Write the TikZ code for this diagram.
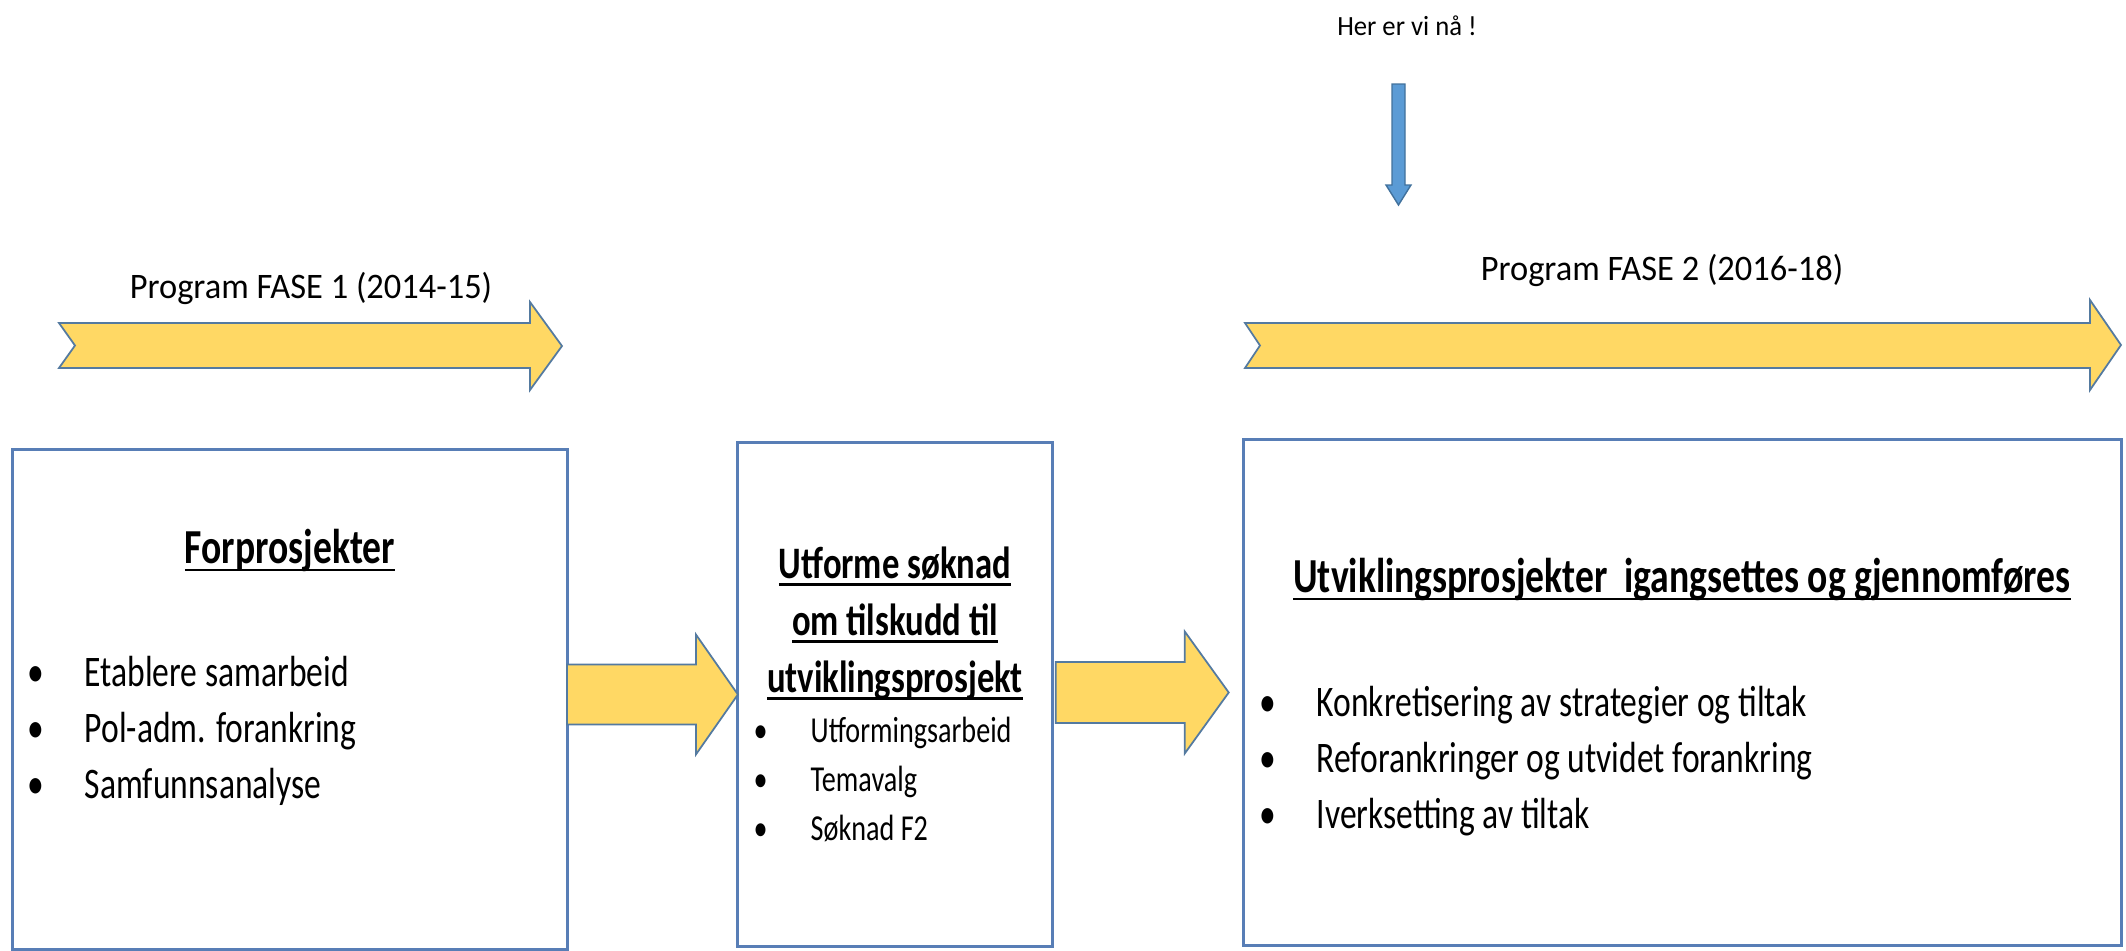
\documentclass[tikz,border=0pt]{standalone}
\usepackage{fontspec}
\setmainfont{Carlito}[FakeStretch=0.77]
\newfontfamily\labelfont{Carlito}[FakeStretch=0.96]
\usepackage{tikz}

\definecolor{gold}{RGB}{255,216,100}
\definecolor{goldline}{RGB}{84,122,160}
\definecolor{boxline}{RGB}{88,126,182}
\definecolor{skyfill}{RGB}{91,155,213}
\definecolor{skyline}{RGB}{65,113,156}

\newcommand\undl[1]{\setbox0=\hbox{#1}\rlap{\rule[-0.17em]{\wd0}{0.055em}}\box0}
\newcommand\bul{\makebox[0.57cm][l]{•}}

\tikzset{
	box/.style={draw=boxline, line width=0.9pt, inner sep=0pt, outer sep=0pt},
	fat/.style={fill=gold, draw=goldline, line width=0.5pt, line join=miter},
	sky/.style={fill=skyfill, draw=skyline, line width=0.4pt},
	lbl/.style={inner sep=0pt, anchor=base, font=\labelfont\fontsize{10.2}{12}\selectfont},
	head/.style={inner sep=0pt, anchor=base, align=center, font=\bfseries\fontsize{13.9}{17}\selectfont},
	body/.style={inner sep=0pt, anchor=base west, align=left, font=\fontsize{12.4}{15.8}\selectfont}
}

\begin{document}
\begin{tikzpicture}[x=0.01cm, y=-0.01cm]
	\useasboundingbox (0,0) rectangle (2126,951);

	\node[lbl, font=\labelfont\fontsize{7.9}{9.5}\selectfont] (h) at (1407,35) {Her er vi nå !};
	\draw[sky] (1392,84) -- (1405,84) -- (1405,185) -- (1411,185) -- (1398.5,205) -- (1386,185) -- (1392,185) -- cycle;

	\node[lbl] (p1) at (311,298) {Program FASE 1 (2014-15)};
	\node[lbl] (p2) at (1662,280) {Program FASE 2 (2016-18)};

	\draw[fat] (59,323) -- (530,323) -- (530,302) -- (562,346) -- (530,390) -- (530,368) -- (59,368) -- (75,345.5) -- cycle;
	\draw[fat] (1245,323) -- (2090,323) -- (2090,300) -- (2121,345) -- (2090,390) -- (2090,368) -- (1245,368) -- (1260,345.5) -- cycle;

	\node[box, minimum width=5.54cm, minimum height=4.99cm] (a) at (290,699.5) {};
	\node[box, minimum width=3.14cm, minimum height=5.03cm] (b) at (895,694.5) {};
	\node[box, minimum width=8.77cm, minimum height=5.05cm] (c) at (1682.5,692.5) {};

	\node[head] (a1) at (290,563) {\undl{Forprosjekter}};
	\node[body] (a2) at (27,798) {\bul Etablere samarbeid\\ \bul Pol-adm. forankring\\ \bul Samfunnsanalyse};

	\node[head, font=\bfseries\fontsize{12.8}{16.2}\selectfont] (b1) at (895,692) {\undl{Utforme søknad}\\ \undl{om tilskudd til}\\ \undl{utviklingsprosjekt}};
	\node[body, font=\fontsize{10.4}{13.9}\selectfont] (b2) at (753,840) {\bul Utformingsarbeid\\ \bul Temavalg\\ \bul Søknad F2};

	\node[head] (c1) at (1682,592) {\undl{Utviklingsprosjekter\ \ igangsettes og gjennomføres}};
	\node[body] (c2) at (1259,828) {\bul Konkretisering av strategier og tiltak\\ \bul Reforankringer og utvidet forankring\\ \bul Iverksetting av tiltak};

	\draw[fat] (b.west) -- ++(-42,-60) -- ++(0,30) -- ++(-129,0) -- ++(0,60) -- ++(129,0) -- ++(0,30) -- cycle;
	\draw[fat] ([xshift=-0.15cm]c.west) -- ++(-44,-61) -- ++(0,30.5) -- ++(-129,0) -- ++(0,61) -- ++(129,0) -- ++(0,30.5) -- cycle;
\end{tikzpicture}
\end{document}
